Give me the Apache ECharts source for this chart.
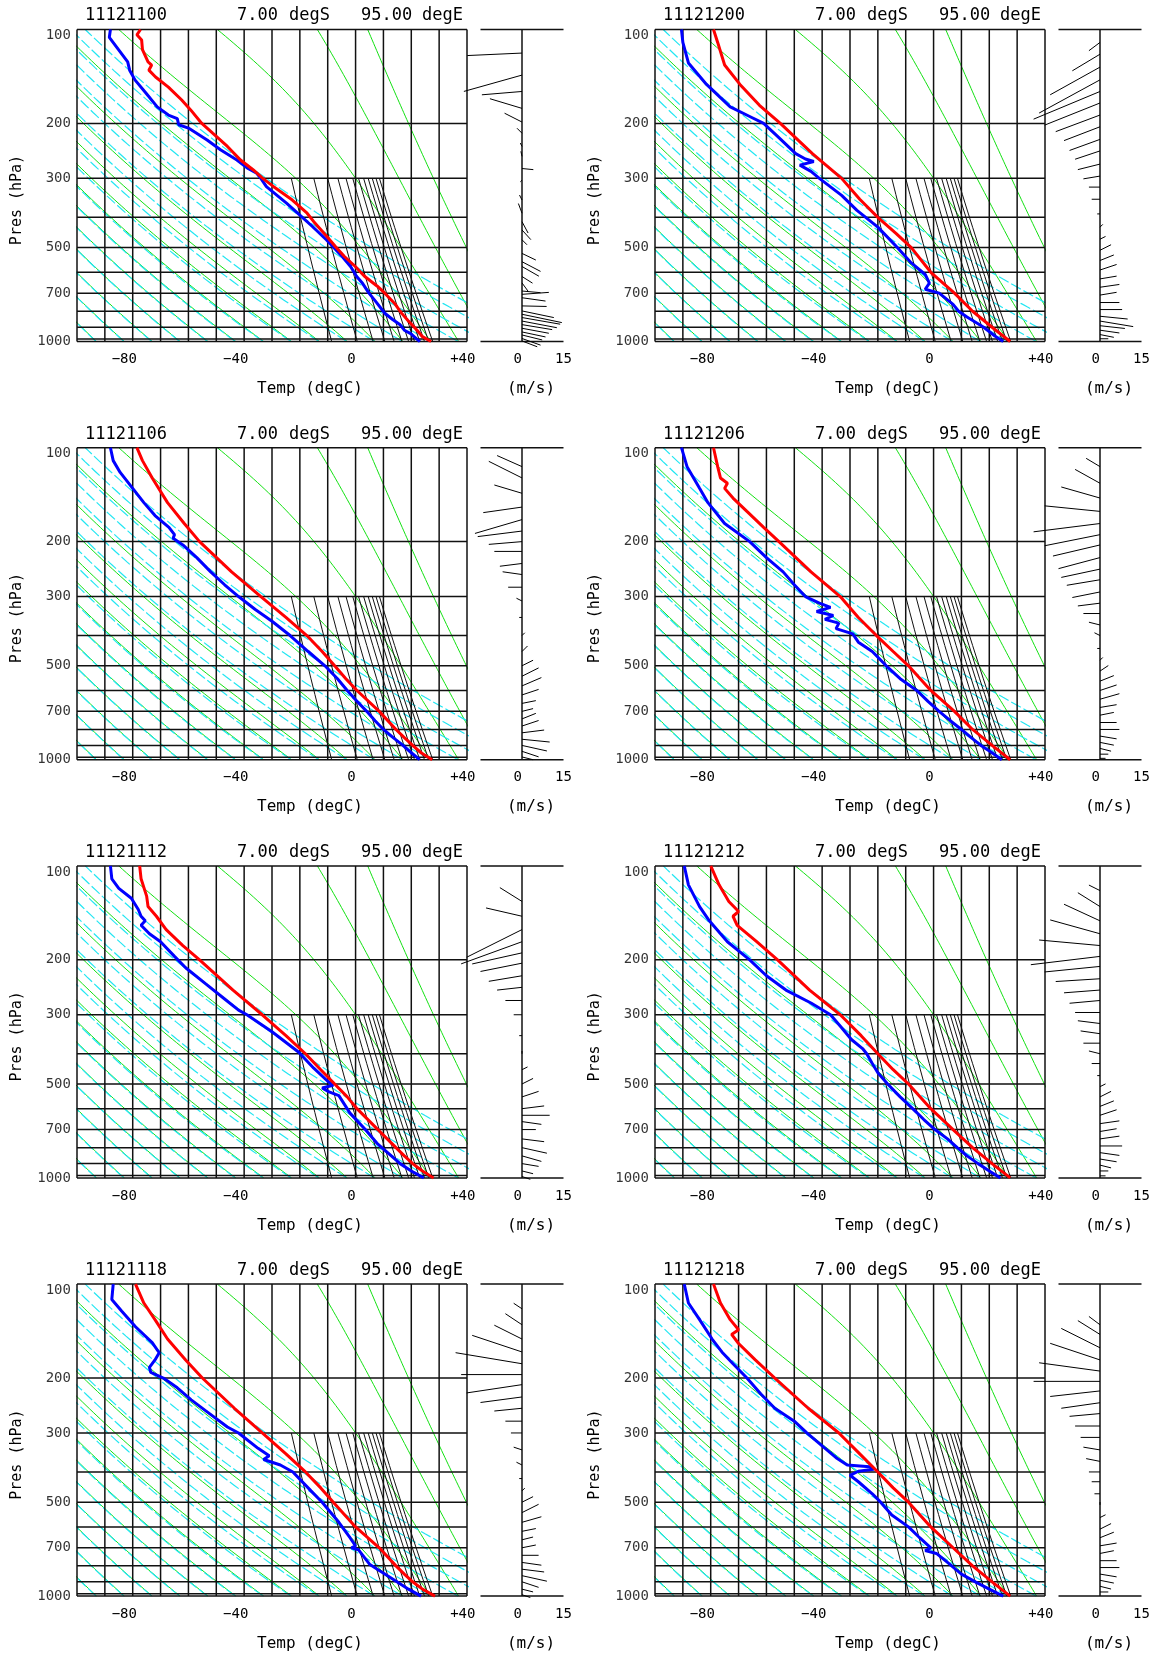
<!DOCTYPE html>
<html><head><meta charset="utf-8">
<script src="https://cdn.jsdelivr.net/npm/echarts/dist/echarts.min.js"></script>
<style>html,body{margin:0;padding:0;background:#fff}#c{width:1158px;height:1657px}</style>
</head><body><div id="c"></div>
<script>
// ---------------- chart texts ----------------
const TITLES = ['11121100','11121106','11121112','11121118','11121200','11121206','11121212','11121218'];
const LAT_VALUE = '7.00', LAT_UNIT = 'degS', LON_VALUE = '95.00', LON_UNIT = 'degE';
const X_NAME = 'Temp (degC)', Y_NAME = 'Pres (hPa)', WIND_NAME = '(m/s)';
const T_TICK_TEXT = {'-80':'\u221280  ','-40':'\u221240  ','0':'0 ','40':'+40 '};
const W_TICK_TEXT = {'0':'0 ','15':'15'};
const PRES_LABELS = [100,200,300,500,700,1000];

// ---------------- diagram reference lines ----------------
const ISOTHERMS = [-100,-90,-80,-70,-60,-50,-40,-30,-20,-10,0,10,20,30,40];
const ISOBARS = [100,200,300,400,500,600,700,800,900,982,1000];
const DRY_THETA = [180,190,200,210,220,230,240,250,260,270,280,290,300,310,320,330,340];   // K
const MOIST_T1000 = [-93,-83,-73,-63,-53,-43,-33,-23,-13,-3,7,17,27,37,47,57];         // degC at 1000 hPa
const MIX_RATIO = [2,4,6,8,10,12,14,16,18,20,22,24];                                   // g/kg
const MIX_TOP = 300;

// ---------------- soundings: [pressure hPa, degC] ----------------
const TEMP_11121100 = [[100,-77.2],[104,-78.5],[108,-76.8],[116,-76.5],[127,-74.5],[130,-73.2],[135,-74.2],[142,-71.8],[153,-67.2],[168,-62.5],[181,-59.2],[200,-55.2],[215,-51.3],[237,-46],[262,-41.3],[282,-36.7],[300,-33.3],[319,-29.4],[352,-22.7],[388,-17.4],[413,-15],[461,-10.3],[494,-7.4],[533,-4.1],[575,-0.1],[618,3.2],[665,7.8],[700,10.5],[755,14],[811,16.5],[856,18.8],[919,22],[965,24],[1000,27.1]];
const DEWP_11121100 = [[100,-88],[106,-88.4],[116,-85.1],[127,-81.8],[135,-81.1],[145,-79.2],[160,-75.2],[177,-71.2],[188,-67.2],[193,-64],[202,-63.5],[207,-60],[226,-53.3],[243,-48.5],[262,-42.6],[279,-38.6],[289,-35.5],[300,-34],[319,-32],[360,-24.8],[397,-19.5],[428,-15.5],[472,-10.5],[534,-4.8],[575,-1.8],[619,0.4],[651,2.5],[700,4.8],[744,7.2],[812,10.5],[850,13.3],[884,16],[920,17.5],[944,19.8],[979,21.8],[1000,23.1]];

const TEMP_11121106 = [[100,-78.5],[110,-76.5],[125,-73],[150,-67.5],[175,-61.5],[200,-56],[250,-44.5],[300,-34],[350,-25],[400,-17.5],[450,-12],[500,-7.5],[550,-3.5],[600,0.5],[700,8.5],[800,14.5],[850,17.5],[900,20.5],[950,23.5],[1000,27.5]];
const DEWP_11121106 = [[100,-88],[110,-87],[120,-84.5],[135,-80],[150,-76],[165,-72],[180,-67],[190,-65],[195,-65.5],[205,-62],[225,-57],[250,-52],[275,-47],[300,-42],[330,-36],[360,-30],[400,-23.5],[450,-17],[500,-11],[550,-6.5],[600,-3],[650,0.5],[700,4],[750,7],[800,10],[850,13.5],[900,17],[950,20],[1000,23]];

const TEMP_11121112 = [[100,-77.5],[110,-77],[125,-75],[135,-74.5],[145,-71.5],[160,-68],[180,-62],[200,-56],[250,-44],[300,-33.5],[350,-25],[400,-18],[450,-12.5],[500,-7.5],[550,-3],[600,0.5],[700,8],[800,14.5],[850,17.5],[900,20.5],[950,24],[1000,28]];
const DEWP_11121112 = [[100,-88],[110,-87.5],[118,-85],[127,-80.5],[138,-78],[145,-77],[150,-75.5],[155,-77],[165,-74],[175,-70],[195,-65],[212,-61],[238,-54],[267,-47],[290,-42],[300,-39],[340,-30],[395,-20.5],[445,-15],[490,-10],[505,-8],[515,-12],[530,-9.5],[545,-6],[620,-2],[700,3.5],[780,8],[830,11.5],[900,16],[950,20],[1000,24.5]];

const TEMP_11121118 = [[100,-79],[115,-76],[130,-72],[150,-67.5],[175,-61],[200,-55],[250,-43.5],[300,-33.5],[350,-25],[400,-18],[450,-12.5],[500,-8],[600,0],[700,8.5],[800,14.5],[850,17.5],[900,20.5],[950,24],[1000,28.5]];
const DEWP_11121118 = [[100,-87],[112,-87.5],[122,-84],[137,-79],[154,-73],[166,-70.5],[175,-72],[185,-74],[192,-73.5],[200,-69],[215,-64],[235,-59],[254,-54],[287,-46],[300,-42],[336,-35],[355,-31],[365,-33],[380,-27],[400,-22.5],[460,-16],[500,-12],[580,-6],[650,-2],[690,0],[700,-1.5],[710,1],[790,5],[890,14],[950,19],[1000,23.5]];

const TEMP_11121200 = [[100,-79],[110,-77.5],[130,-75],[150,-69.5],[175,-62.5],[200,-55],[250,-43.5],[300,-33],[350,-26.5],[400,-20],[450,-13.5],[500,-8],[600,-1],[700,7.5],[800,14],[900,21],[1000,27.5]];
const DEWP_11121200 = [[100,-90.5],[110,-90],[128,-88],[150,-81.5],[177,-73],[190,-66],[200,-61],[220,-56],[250,-49.5],[260,-46],[265,-43],[272,-48],[285,-44],[300,-41],[340,-33],[380,-27.5],[430,-20],[500,-13],[560,-8],[610,-3],[650,-1.5],[680,-3],[700,2],[760,7],[800,9],[835,12],[900,18],[960,22],[1000,25]];

const TEMP_11121206 = [[100,-79],[115,-77.5],[125,-76.5],[130,-74],[135,-75],[145,-72],[160,-67],[180,-61],[200,-55.5],[250,-44],[300,-33.5],[350,-27],[400,-20.5],[450,-14.5],[500,-9],[600,-1],[700,7.5],[800,14],[900,21],[1000,27.5]];
const DEWP_11121206 = [[100,-90.5],[115,-88.5],[135,-84],[150,-81],[175,-75],[200,-66],[225,-60],[250,-54],[275,-50],[300,-46],[315,-41],[325,-37],[335,-42],[345,-36],[355,-39],[365,-34],[380,-35],[395,-29],[420,-27],[450,-22],[500,-17],[550,-12],[600,-6],[650,-2],[700,2],[750,6],[800,10],[850,13.5],[900,17],[950,21],[1000,24.5]];

const TEMP_11121212 = [[100,-80],[115,-77],[130,-73.5],[140,-70],[145,-72],[155,-70.5],[175,-63.5],[200,-56],[250,-44.5],[300,-33.5],[350,-26],[400,-20],[450,-14.5],[500,-9],[600,-1],[700,7],[800,14],[900,21],[1000,27.5]];
const DEWP_11121212 = [[100,-89.5],[115,-88],[135,-84],[150,-80.5],[175,-74],[200,-66],[225,-60],[250,-53],[275,-44],[300,-37],[330,-33],[360,-29.5],[385,-25.5],[400,-24],[430,-22],[460,-20],[500,-16.5],[550,-12],[600,-7.5],[650,-3.5],[700,0.5],[750,5],[800,8.5],[850,12],[900,16],[950,20],[1000,24]];

const TEMP_11121218 = [[100,-79],[115,-76.5],[130,-73],[140,-70],[145,-72.5],[155,-70],[175,-64],[200,-57],[250,-45],[300,-34],[350,-26.5],[400,-20],[450,-14.5],[500,-9],[600,-1],[700,7],[800,14],[900,21],[1000,27.5]];
const DEWP_11121218 = [[100,-89.5],[115,-88],[130,-84],[150,-79.5],[165,-76],[180,-72],[200,-67],[225,-62],[250,-57],[275,-50],[300,-45.5],[330,-40],[360,-35],[380,-31],[385,-23],[392,-21.5],[398,-27],[410,-30],[430,-27],[470,-22],[500,-19],[550,-15],[600,-9],[650,-5],[700,-1],[715,-3],[730,1],[780,5],[850,10],[900,15],[950,20],[1000,25]];

// ---------------- wind sticks: [pressure hPa, u m/s, v m/s] ----------------
const WIND_11121100 = [[119,-19.8,-0.9],[140,-21,-5.9],[158,-14.5,-1.2],[179,-11.6,3.5],[198,-6.3,3.2],[215,-1.8,1.8],[237,-0.6,1.2],[255,-0.4,1.8],[279,4.1,-0.4],[304,-0.6,-0.6],[352,-0.9,1.8],[388,-1.3,3.5],[413,2.2,-4.1],[439,3.2,-3.5],[472,1.8,-1.8],[522,5,-2.4],[555,6.7,-3.5],[575,6.1,-3.5],[619,3.8,-2.4],[649,2.2,-3],[689,6.7,-0.6],[706,9.7,0.7],[724,8.5,-1.2],[769,8.9,-0.2],[798,11.5,-2.4],[818,14.4,-3],[838,13.8,-2.4],[860,12.6,-2.4],[883,10.9,-1.8],[907,9.7,-1.8],[932,8.5,-1.8],[953,7.3,-1.8],[978,6.7,-2.4],[996,5.5,-2.1]];
const WIND_11121106 = [[115,-9,4],[125,-12,6],[140,-10,3],[155,-14,-2],[170,-17,-5],[185,-16,-2],[200,-12,-1],[215,-10,0],[235,-8,-1],[255,-7,1],[280,-5,0],[310,-2,1],[350,-1,0],[400,1,1],[450,2,2],[500,4,2],[540,6,3],[580,7,3],[620,6,2],[660,5,1],[700,4,1],[740,5,2],[780,6,2],[820,8,1],[860,10,-1],[900,9,-2],[940,6,-2],[980,4,-1]];
const WIND_11121112 = [[130,-8,5],[145,-13,3],[160,-20,-10],[175,-22,-8],[190,-18,-4],[205,-15,-3],[225,-12,-2],[245,-9,-1],[270,-6,0],[300,-3,0],[350,-1,0],[400,0,1],[450,2,1],[500,4,2],[550,6,2],[600,8,1],[630,10,0],[660,7,-1],[700,5,0],[750,8,-1],[800,9,-2],[850,7,-2],[900,6,-1],[950,4,-1],[990,3,-1]];
const WIND_11121118 = [[120,-3,2],[135,-6,4],[150,-10,5],[165,-18,6],[180,-24,4],[195,-22,0],[210,-20,-3],[230,-15,-2],[250,-10,-1],[275,-6,0],[300,-4,0],[340,-3,1],[380,-2,1],[420,-1,0],[460,1,1],[500,4,2],[540,6,3],[580,7,2],[620,5,1],[660,4,1],[700,5,1],[740,6,0],[780,7,-1],[820,8,-1],[860,9,-2],[900,6,-2],[950,4,-1],[990,3,-1]];
const WIND_11121200 = [[110,-4,-3],[120,-10,-6],[132,-18,-10],[145,-22,-12],[158,-24,-10],[172,-20,-8],[188,-16,-6],[205,-13,-5],[225,-11,-4],[245,-9,-3],[270,-8,-2],[295,-6,-1],[320,-4,0],[350,-3,0],[390,-1,0],[430,1,1],[470,2,1],[510,4,2],[550,5,2],[590,6,2],[630,6,1],[670,7,1],[710,6,1],[750,7,0],[790,8,0],[830,10,-1],[860,12,-2],[890,9,-1],[920,7,-1],[950,5,-1],[980,3,0]];
const WIND_11121206 = [[115,-5,3],[130,-9,5],[145,-14,4],[160,-20,2],[175,-24,-3],[190,-20,-4],[205,-17,-4],[225,-15,-4],[245,-14,-3],[265,-12,-2],[290,-10,-2],[315,-8,-1],[340,-6,0],[370,-4,1],[400,-2,1],[440,-1,0],[480,1,1],[520,3,2],[560,5,2],[600,6,2],[640,7,2],[680,6,1],[720,5,1],[760,6,0],[800,7,0],[840,6,-1],[880,5,-1],[920,4,-1],[960,3,0],[990,2,0]];
const WIND_11121212 = [[120,-4,2],[135,-8,5],[150,-13,6],[165,-18,5],[180,-22,2],[195,-25,-3],[210,-20,-2],[230,-16,-1],[250,-13,-1],[270,-11,-1],[295,-9,0],[320,-8,1],[345,-7,1],[370,-6,0],[400,-4,1],[430,-3,0],[470,-1,0],[510,2,1],[550,4,2],[590,5,2],[630,6,2],[670,7,1],[710,6,1],[750,7,1],[790,8,0],[830,7,-1],[870,6,-1],[910,4,-1],[950,3,0],[985,2,0]];
const WIND_11121218 = [[135,-4,3],[145,-8,5],[160,-14,7],[175,-18,6],[190,-22,3],[205,-24,0],[220,-18,-2],[240,-14,-2],[260,-11,-1],[285,-9,0],[310,-7,0],[340,-6,1],[370,-5,1],[400,-4,0],[430,-3,0],[470,-2,0],[510,0,1],[560,2,1],[610,4,2],[650,5,2],[690,6,1],[730,5,1],[770,6,0],[810,7,0],[850,6,-1],[890,5,-1],[930,4,-1],[970,3,0]];

const PANELS = [
  {id:TITLES[0], temp:TEMP_11121100, dewp:DEWP_11121100, wind:WIND_11121100},
  {id:TITLES[1], temp:TEMP_11121106, dewp:DEWP_11121106, wind:WIND_11121106},
  {id:TITLES[2], temp:TEMP_11121112, dewp:DEWP_11121112, wind:WIND_11121112},
  {id:TITLES[3], temp:TEMP_11121118, dewp:DEWP_11121118, wind:WIND_11121118},
  {id:TITLES[4], temp:TEMP_11121200, dewp:DEWP_11121200, wind:WIND_11121200},
  {id:TITLES[5], temp:TEMP_11121206, dewp:DEWP_11121206, wind:WIND_11121206},
  {id:TITLES[6], temp:TEMP_11121212, dewp:DEWP_11121212, wind:WIND_11121212},
  {id:TITLES[7], temp:TEMP_11121218, dewp:DEWP_11121218, wind:WIND_11121218}
];

// ---------------- layout ----------------
const FONT = '"DejaVu Sans Mono", monospace';
const CELL_W = 578, CELL_H = 418.2;
const MAIN = {left:77, top:29.5, width:390, height:312};
const WIND = {left:480.5, top:29.5, width:83, height:312};

// ---------------- thermodynamics for diagram guide curves ----------------
const KAPPA = 0.2857, LV = 2.5e6, CP = 1004, EPS = 0.622;
function satVap(Tk){ const t = Tk - 273.15; return 6.112*Math.exp(17.67*t/(t+243.5)); }
function thetaE(Tk, p){ const e = satVap(Tk); if (e >= 0.9*p) return 1e9; const w = EPS*e/(p-e); return Tk*Math.pow(1000/p, KAPPA)*Math.exp(LV*w/(CP*Tk)); }
function moistT(the, p){ let lo = 120, hi = 360; for (let i=0;i<60;i++){ const m=(lo+hi)/2; if (thetaE(m,p) > the) hi = m; else lo = m; } return (lo+hi)/2 - 273.15; }
const LEVELS = []; for (let i=0;i<=90;i++) LEVELS.push(1000*Math.pow(10,-i/90));
const GAP = [NaN, NaN];

function buildIsotherms(){ const d=[]; ISOTHERMS.forEach(t=>{ d.push([t,100],[t,1000],GAP); }); return d; }
function buildIsobars(){ const d=[]; ISOBARS.forEach(p=>{ d.push([-100,p],[40,p],GAP); }); return d; }
function buildDry(){ const d=[]; DRY_THETA.forEach(th=>{ LEVELS.forEach(p=>d.push([th*Math.pow(p/1000,KAPPA)-273.15,p])); d.push(GAP); }); return d; }
function buildMoist(){ const d=[]; MOIST_T1000.forEach(t0=>{ const the = thetaE(t0+273.15,1000); LEVELS.forEach(p=>d.push([moistT(the,p),p])); d.push(GAP); }); return d; }
function buildMix(){ const d=[]; MIX_RATIO.forEach(w=>{ const q=w/1000; for (let i=0;i<=10;i++){ const p = 1000*Math.pow(MIX_TOP/1000,i/10); const e=q*p/(EPS+q); const l=Math.log(e/6.112); d.push([243.5*l/(17.67-l),p]); } d.push(GAP); }); return d; }
const ISOTHERM_DATA = buildIsotherms(), ISOBAR_DATA = buildIsobars(), DRY_DATA = buildDry(), MOIST_DATA = buildMoist(), MIX_DATA = buildMix();

const grids=[], xAxes=[], yAxes=[], series=[], graphics=[];
function lineS(ai, data, style, z, clip){ return {type:'line', xAxisIndex:ai, yAxisIndex:ai, data, symbol:'none', showSymbol:false, silent:true, connectNulls:false, clip:clip, lineStyle:style, z, animation:false}; }
function txt(x, y, text, size, align, extra){ return Object.assign({type:'text', x, y, silent:true, style:{text, font:size+'px '+FONT, fill:'#000', align, verticalAlign:'middle', textAlign:align, textVerticalAlign:'middle'}}, extra||{}); }

PANELS.forEach((pn, i) => {
  const col = Math.floor(i/4), row = i % 4;
  const ox = col*CELL_W, oy = row*CELL_H;
  const gi = grids.length;
  grids.push({left:ox+MAIN.left, top:oy+MAIN.top, width:MAIN.width, height:MAIN.height, containLabel:false, show:false});
  grids.push({left:ox+WIND.left, top:oy+WIND.top, width:WIND.width, height:WIND.height, containLabel:false, show:false});
  xAxes.push({gridIndex:gi, type:'value', min:-100, max:40, interval:20, axisLine:{show:false}, axisTick:{show:false}, splitLine:{show:false},
    axisLabel:{show:true, margin:11, fontFamily:FONT, fontSize:14, color:'#000', showMinLabel:true, showMaxLabel:true, hideOverlap:false, formatter:v=>T_TICK_TEXT[String(v)]||''}});
  xAxes.push({gridIndex:gi+1, type:'value', min:-15, max:15, interval:15, axisLine:{show:false}, axisTick:{show:false}, splitLine:{show:false},
    axisLabel:{show:true, margin:11, fontFamily:FONT, fontSize:14, color:'#000', showMinLabel:true, showMaxLabel:true, hideOverlap:false, formatter:v=>W_TICK_TEXT[String(v)]||''}});
  [gi, gi+1].forEach(g => yAxes.push({gridIndex:g, type:'log', logBase:10, min:100, max:1000, inverse:true, axisLine:{show:false}, axisTick:{show:false}, axisLabel:{show:false}, splitLine:{show:false}}));

  series.push(lineS(gi, MOIST_DATA, {color:'#12e012', width:1}, 2, true));
  series.push(lineS(gi, DRY_DATA, {color:'#22e6f2', width:1.2, type:[11,3]}, 3, true));
  series.push(lineS(gi, MIX_DATA, {color:'#111', width:1}, 4, false));
  series.push(lineS(gi, ISOTHERM_DATA, {color:'#111', width:1.5}, 5, false));
  series.push(lineS(gi, ISOBAR_DATA, {color:'#111', width:1.5}, 5, false));
  series.push(lineS(gi, pn.dewp.map(d=>[d[1],d[0]]), {color:'#0000ff', width:3}, 8, false));
  series.push(lineS(gi, pn.temp.map(d=>[d[1],d[0]]), {color:'#ff0000', width:3}, 9, false));
  series.push({type:'scatter', xAxisIndex:gi, yAxisIndex:gi, symbolSize:0.1, itemStyle:{color:'rgba(0,0,0,0)'}, silent:true, clip:false, animation:false,
    data: PRES_LABELS.map(p=>({value:[-100,p], label:{offset: p===100?[0,6]:[0,0]}})),
    label:{show:true, position:'left', distance:6, fontFamily:FONT, fontSize:14, color:'#000', formatter:d=>String(d.value[1])}});
  // wind frame
  series.push(lineS(gi+1, [[-15,100],[15,100],GAP,[0,100],[0,1000],GAP,[-15,1000],[15,1000]], {color:'#111', width:1.5}, 5, false));
  // wind sticks
  series.push({type:'custom', xAxisIndex:gi+1, yAxisIndex:gi+1, silent:true, clip:false, animation:false, z:6,
    encode:{x:0, y:1}, data: pn.wind.map(w=>[w[1], w[0], w[2]]),
    renderItem:(params, api)=>{
      const u=api.value(0), p=api.value(1), v=api.value(2);
      const b=api.coord([0,p]); const t=api.coord([u,p]); const ppm = api.coord([1,p])[0]-b[0];
      return {type:'line', shape:{x1:b[0], y1:b[1], x2:t[0], y2:b[1]-v*ppm}, style:{stroke:'#000', lineWidth:1}};
    }});

  // texts
  graphics.push(txt(ox+85, oy+16, pn.id, 17, 'left'));
  graphics.push(txt(ox+237, oy+16, LAT_VALUE, 17, 'left'));
  graphics.push(txt(ox+289, oy+16, LAT_UNIT, 17, 'left'));
  graphics.push(txt(ox+361, oy+16, LON_VALUE, 17, 'left'));
  graphics.push(txt(ox+422, oy+16, LON_UNIT, 17, 'left'));
  graphics.push(txt(ox+310, oy+389, X_NAME, 16, 'center'));
  graphics.push(txt(ox+531, oy+389, WIND_NAME, 16, 'center'));
  graphics.push(txt(ox+17, oy+200, Y_NAME, 15, 'center', {rotation:Math.PI/2}));
});

const chart = echarts.init(document.getElementById('c'), null, {renderer:'canvas'});
chart.setOption({animation:false, backgroundColor:'#fff', grid:grids, xAxis:xAxes, yAxis:yAxes, series, graphic:graphics});
</script></body></html>
